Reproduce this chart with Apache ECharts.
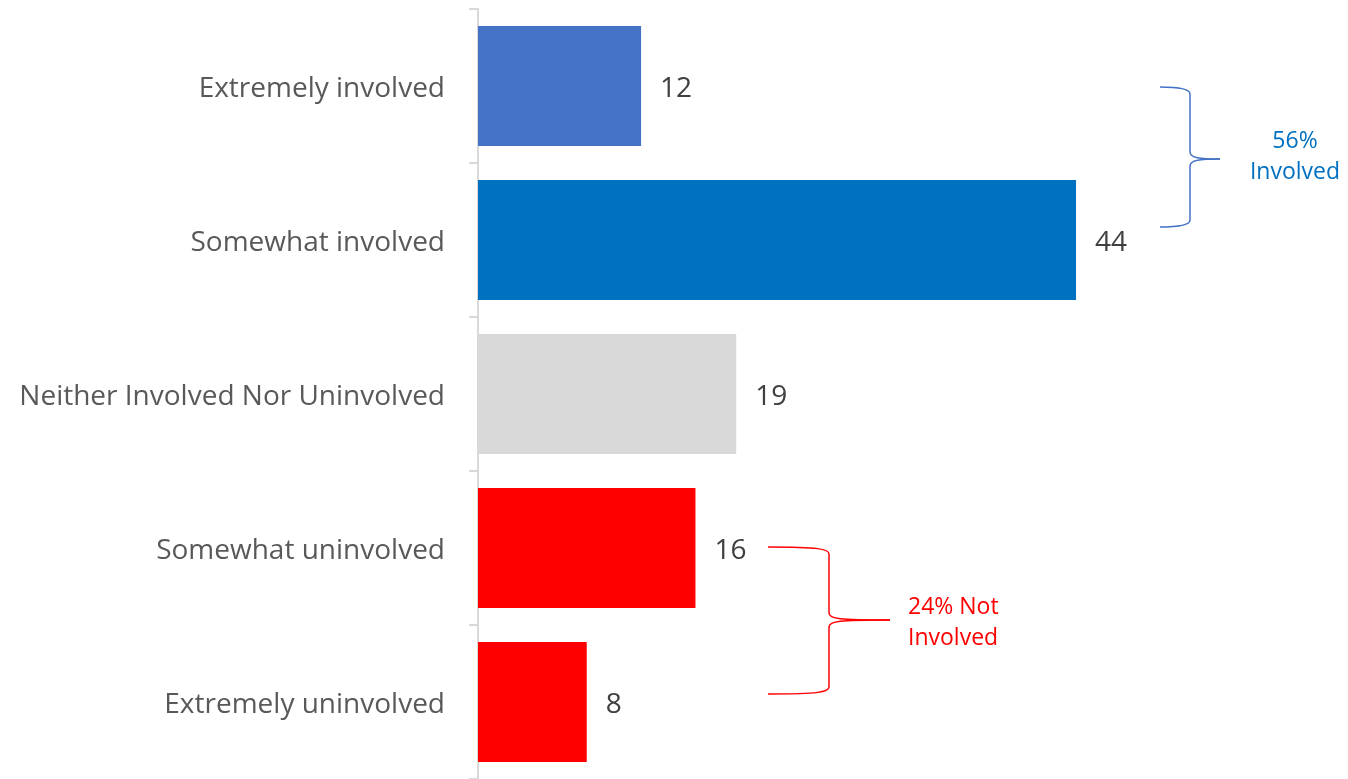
<!DOCTYPE html>
<html>
<head>
<meta charset="utf-8">
<script src="https://cdn.jsdelivr.net/npm/echarts@6/dist/echarts.min.js"></script>
<style>
    html, body { margin: 0; padding: 0; background: #fff; }
    #involvement_bars { width: 1348px; height: 779px; }
</style>
</head>
<body>
<div id="involvement_bars"></div>
<script>
// Chart data
var categories = [
    'Extremely involved',
    'Somewhat involved',
    'Neither Involved Nor Uninvolved',
    'Somewhat uninvolved',
    'Extremely uninvolved'
];
var shares = [12, 44, 19, 16, 8];
var barColors = ['#4472C4', '#0070C0', '#D9D9D9', '#FF0000', '#FF0000'];

var fontStack = '"Open Sans", Lato, sans-serif';

// Curly brace made of bezier curves and straight lines
// x0: open end, xm: spine, xp: tip, y0 top, ym middle, y1 bottom
function brace(x0, xm, xp, y0, ym, y1, color) {
    var st = { stroke: color, lineWidth: 1.5, fill: null };
    var r = 7;
    return [
        { type: 'bezierCurve', shape: { x1: x0, y1: y0, x2: xm, y2: y0 + r, cpx1: xm - 10, cpy1: y0, cpx2: xm, cpy2: y0 + 2 }, style: st },
        { type: 'line', shape: { x1: xm, y1: y0 + r, x2: xm, y2: ym - r }, style: st },
        { type: 'bezierCurve', shape: { x1: xm, y1: ym - r, x2: xp, y2: ym, cpx1: xm, cpy1: ym - 1, cpx2: xm + 10, cpy2: ym }, style: st },
        { type: 'bezierCurve', shape: { x1: xp, y1: ym, x2: xm, y2: ym + r, cpx1: xm + 10, cpy1: ym, cpx2: xm, cpy2: ym + 1 }, style: st },
        { type: 'line', shape: { x1: xm, y1: ym + r, x2: xm, y2: y1 - r }, style: st },
        { type: 'bezierCurve', shape: { x1: xm, y1: y1 - r, x2: x0, y2: y1, cpx1: xm, cpy1: y1 - 2, cpx2: xm - 10, cpy2: y1 }, style: st }
    ];
}

var chartElement = document.getElementById('involvement_bars');
var chart = echarts.init(chartElement);

var annotations = []
    .concat(brace(1160, 1190, 1220, 87, 159, 227, '#4472C4'))
    .concat(brace(768, 829, 890, 547, 620, 694, '#FF0000'))
    .concat([
        {
            type: 'text',
            x: 1295,
            y: 126,
            style: {
                text: '56%\nInvolved',
                align: 'center',
                fill: '#0070C0',
                font: '23px ' + fontStack,
                lineHeight: 31
            }
        },
        {
            type: 'text',
            x: 908,
            y: 592,
            style: {
                text: '24% Not\nInvolved',
                fill: '#FF0000',
                font: '23px ' + fontStack,
                lineHeight: 31
            }
        }
    ]);

chart.setOption({
    animation: false,
    textStyle: {
        fontFamily: fontStack
    },

    grid: {
        left: 478,
        top: 9,
        width: 815.5,
        height: 772
    },

    xAxis: {
        type: 'value',
        min: 0,
        max: 60,
        show: false
    },

    yAxis: {
        type: 'category',
        inverse: true,
        offset: 2,
        data: categories,
        axisLine: {
            show: true,
            lineStyle: { color: '#d9d9d9', width: 2 }
        },
        axisTick: {
            show: true,
            length: 9,
            lineStyle: { color: '#d9d9d9', width: 2 }
        },
        axisLabel: {
            margin: 31,
            formatter: function(v) { return '{c|' + v + '}'; },
            rich: {
                c: {
                    color: '#595959',
                    fontSize: 28,
                    fontFamily: fontStack,
                    padding: [6, 0, 0, 0]
                }
            }
        },
        splitLine: { show: false }
    },

    series: [{
        type: 'bar',
        barWidth: 120,
        data: shares.map(function(v, i) {
            return { value: v, itemStyle: { color: barColors[i] } };
        }),
        label: {
            show: true,
            position: 'right',
            distance: 19,
            offset: [0, 3],
            color: '#404040',
            fontSize: 28,
            fontFamily: fontStack
        }
    }],

    // Bracket annotations
    graphic: annotations
});
</script>
</body>
</html>
